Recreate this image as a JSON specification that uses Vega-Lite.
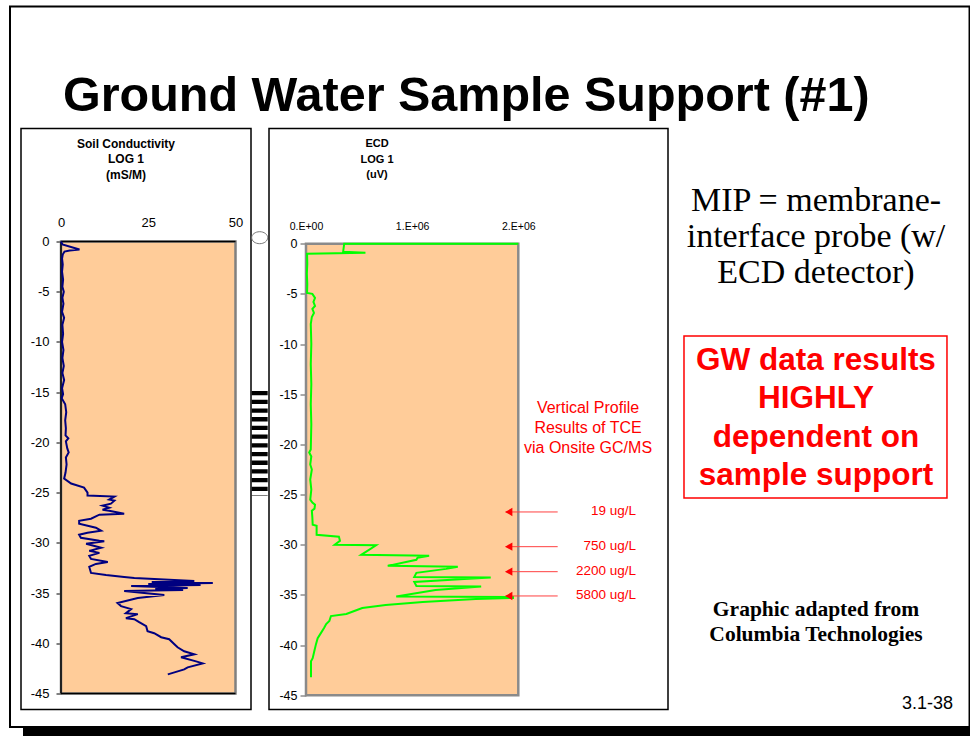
{
  "$schema": "https://vega.github.io/schema/vega-lite/v6.json",
  "padding": {"left": 8, "top": 4.5, "right": 0, "bottom": 0},
  "background": "white",
  "config": {"font": "Liberation Sans", "view": {"stroke": null}},
  "spacing": 18,
  "bounds": "flush",
  "hconcat": [
    {
      "width": 230,
      "height": 581,
      "view": {"stroke": "black", "strokeWidth": 1.5},
      "layer": [
        {
          "data": {"values": [{}]},
          "mark": {"type": "rect", "filled": false, "stroke": "black", "strokeWidth": 2},
          "encoding": {
            "x": {"datum": -14.613, "type": "quantitative", "scale": {"domain": [-11.461, 54.441], "nice": false, "zero": false}},
            "x2": {"datum": 260.32},
            "y": {"datum": 23.397, "type": "quantitative", "scale": {"domain": [-46.595, 11.25], "nice": false, "zero": false}},
            "y2": {"datum": -48.337}
          }
        },
        {
          "data": {"values": [{}]},
          "mark": {"type": "rect", "fill": "black"},
          "encoding": {
            "x": {"datum": -10.888, "type": "quantitative", "scale": {"domain": [-11.461, 54.441], "nice": false, "zero": false}},
            "x2": {"datum": 260.6},
            "y": {"datum": -48.437, "type": "quantitative", "scale": {"domain": [-46.595, 11.25], "nice": false, "zero": false}},
            "y2": {"datum": -49.333}
          }
        },
        {
          "data": {"values": [{}]},
          "mark": {"type": "text", "align": "left", "baseline": "alphabetic", "fontSize": 48.5, "fontWeight": "bold", "font": "Liberation Sans", "color": "black"},
          "encoding": {
            "x": {"datum": 0.573, "type": "quantitative", "scale": {"domain": [-11.461, 54.441], "nice": false, "zero": false}},
            "y": {"datum": 12.99, "type": "quantitative", "scale": {"domain": [-46.595, 11.25], "nice": false, "zero": false}},
            "text": {"value": "Ground Water Sample Support (#1)"}
          }
        },
        {
          "data": {"values": [{}]},
          "mark": {"type": "point", "shape": "M-1,0A1,0.75,0,1,0,1,0A1,0.75,0,1,0,-1,0", "size": 256, "filled": false, "stroke": "#777777", "strokeWidth": 1, "opacity": 1},
          "encoding": {
            "x": {"datum": 56.93, "type": "quantitative", "scale": {"domain": [-11.461, 54.441], "nice": false, "zero": false}},
            "y": {"datum": 0.378, "type": "quantitative", "scale": {"domain": [-46.595, 11.25], "nice": false, "zero": false}}
          }
        },
        {
          "data": {"values": [{}]},
          "mark": {"type": "rule", "color": "black", "strokeWidth": 16, "strokeDash": [4.3, 4.4]},
          "encoding": {
            "x": {"datum": 56.93, "type": "quantitative", "scale": {"domain": [-11.461, 54.441], "nice": false, "zero": false}},
            "y": {"datum": -14.885, "type": "quantitative", "scale": {"domain": [-46.595, 11.25], "nice": false, "zero": false}},
            "y2": {"datum": -25.338}
          }
        },
        {
          "data": {"values": [{}]},
          "mark": {"type": "rect", "fill": "#FFCC99", "stroke": "#808080", "strokeWidth": 2.5},
          "encoding": {
            "x": {"datum": 0, "type": "quantitative", "scale": {"domain": [-11.461, 54.441], "nice": false, "zero": false}},
            "x2": {"datum": 50},
            "y": {"datum": 0, "type": "quantitative", "scale": {"domain": [-46.595, 11.25], "nice": false, "zero": false}},
            "y2": {"datum": -45}
          }
        },
        {
          "data": {"values": [{}]},
          "mark": {"type": "rule", "color": "black", "strokeWidth": 1.5},
          "encoding": {
            "x": {"datum": 0, "type": "quantitative", "scale": {"domain": [-11.461, 54.441], "nice": false, "zero": false}},
            "y": {"datum": 0, "type": "quantitative", "scale": {"domain": [-46.595, 11.25], "nice": false, "zero": false}},
            "y2": {"datum": -45}
          }
        },
        {
          "data": {"values": [{}]},
          "mark": {"type": "rule", "color": "black", "strokeWidth": 1.5},
          "encoding": {
            "x": {"datum": 0, "type": "quantitative", "scale": {"domain": [-11.461, 54.441], "nice": false, "zero": false}},
            "x2": {"datum": 50},
            "y": {"datum": 0, "type": "quantitative", "scale": {"domain": [-46.595, 11.25], "nice": false, "zero": false}}
          }
        },
        {
          "data": {"values": [{}]},
          "mark": {"type": "rule", "color": "black", "strokeWidth": 1.5},
          "encoding": {
            "x": {"datum": 0, "type": "quantitative", "scale": {"domain": [-11.461, 54.441], "nice": false, "zero": false}},
            "x2": {"datum": 50},
            "y": {"datum": -45, "type": "quantitative", "scale": {"domain": [-46.595, 11.25], "nice": false, "zero": false}}
          }
        },
        {
          "data": {
            "values": [
              {"cond": 0, "depth": 0}, {"cond": 0.4, "depth": -0.3}, {"cond": 5.3, "depth": -0.8}, {"cond": 2.5, "depth": -0.9}, {"cond": 1.0, "depth": -1.0},
              {"cond": 0.5, "depth": -1.3}, {"cond": 0.3, "depth": -1.7}, {"cond": 0.5, "depth": -2.3}, {"cond": 0.3, "depth": -3.0}, {"cond": 0.6, "depth": -3.8},
              {"cond": 0.4, "depth": -4.5}, {"cond": 0.8, "depth": -5.0}, {"cond": 0.4, "depth": -5.6}, {"cond": 0.7, "depth": -6.2}, {"cond": 0.3, "depth": -7.0},
              {"cond": 0.9, "depth": -7.6}, {"cond": 0.4, "depth": -8.3}, {"cond": 0.6, "depth": -9.2}, {"cond": 0.3, "depth": -10.0}, {"cond": 0.7, "depth": -10.8},
              {"cond": 0.4, "depth": -11.6}, {"cond": 0.8, "depth": -12.4}, {"cond": 0.4, "depth": -13.1}, {"cond": 0.9, "depth": -13.8}, {"cond": 0.3, "depth": -14.6},
              {"cond": 0.6, "depth": -15.2}, {"cond": 0.2, "depth": -15.6}, {"cond": 1.2, "depth": -16.2}, {"cond": 1.5, "depth": -17.0}, {"cond": 1.2, "depth": -17.8},
              {"cond": 1.4, "depth": -18.6}, {"cond": 1.3, "depth": -19.3}, {"cond": 2.1, "depth": -19.6}, {"cond": 1.4, "depth": -19.9}, {"cond": 1.8, "depth": -20.6},
              {"cond": 2.2, "depth": -21.0}, {"cond": 1.4, "depth": -21.5}, {"cond": 1.6, "depth": -22.2}, {"cond": 1.3, "depth": -23.0}, {"cond": 0.9, "depth": -23.6},
              {"cond": 2.9, "depth": -24.1}, {"cond": 6.6, "depth": -24.5}, {"cond": 7.6, "depth": -25.0}, {"cond": 7.6, "depth": -25.3}, {"cond": 15.3, "depth": -25.4},
              {"cond": 13.8, "depth": -25.7}, {"cond": 15.3, "depth": -25.8}, {"cond": 14.3, "depth": -26.1}, {"cond": 11.9, "depth": -26.3}, {"cond": 13.8, "depth": -26.5},
              {"cond": 11.9, "depth": -26.7}, {"cond": 13.8, "depth": -26.8}, {"cond": 18.1, "depth": -27.1}, {"cond": 11.0, "depth": -27.2}, {"cond": 8.6, "depth": -27.6},
              {"cond": 5.2, "depth": -27.8}, {"cond": 5.2, "depth": -28.1}, {"cond": 10.0, "depth": -28.5}, {"cond": 11.5, "depth": -28.8}, {"cond": 7.6, "depth": -29.0},
              {"cond": 5.2, "depth": -29.2}, {"cond": 5.7, "depth": -29.5}, {"cond": 11.0, "depth": -29.8}, {"cond": 12.4, "depth": -29.85}, {"cond": 7.2, "depth": -30.1},
              {"cond": 11.5, "depth": -30.5}, {"cond": 8.1, "depth": -30.8}, {"cond": 11.0, "depth": -31.0}, {"cond": 8.1, "depth": -31.3}, {"cond": 8.6, "depth": -31.6},
              {"cond": 13.4, "depth": -31.9}, {"cond": 10.0, "depth": -32.1}, {"cond": 8.1, "depth": -32.4}, {"cond": 8.6, "depth": -33.0}, {"cond": 12.9, "depth": -33.2},
              {"cond": 18.1, "depth": -33.4}, {"cond": 21.0, "depth": -33.5}, {"cond": 38.2, "depth": -33.8}, {"cond": 26.0, "depth": -33.9}, {"cond": 43.5, "depth": -34.0},
              {"cond": 25.0, "depth": -34.1}, {"cond": 40.0, "depth": -34.2}, {"cond": 20.1, "depth": -34.3}, {"cond": 36.3, "depth": -34.5}, {"cond": 27.0, "depth": -34.6},
              {"cond": 35.0, "depth": -34.7}, {"cond": 18.1, "depth": -34.8}, {"cond": 29.6, "depth": -35.2}, {"cond": 22.0, "depth": -35.5}, {"cond": 16.2, "depth": -36.0},
              {"cond": 17.2, "depth": -36.3}, {"cond": 20.1, "depth": -36.6}, {"cond": 18.6, "depth": -37.0}, {"cond": 22.0, "depth": -37.1}, {"cond": 18.6, "depth": -37.5},
              {"cond": 21.0, "depth": -37.6}, {"cond": 22.4, "depth": -37.9}, {"cond": 24.4, "depth": -38.3}, {"cond": 24.8, "depth": -38.8}, {"cond": 26.7, "depth": -39.0},
              {"cond": 28.7, "depth": -39.4}, {"cond": 31.0, "depth": -39.6}, {"cond": 32.5, "depth": -40.1}, {"cond": 33.4, "depth": -40.4}, {"cond": 35.3, "depth": -40.8},
              {"cond": 38.2, "depth": -41.1}, {"cond": 34.4, "depth": -41.4}, {"cond": 38.7, "depth": -41.8}, {"cond": 40.6, "depth": -42.0}, {"cond": 36.3, "depth": -42.4},
              {"cond": 35.3, "depth": -42.6}, {"cond": 32.5, "depth": -42.9}, {"cond": 30.6, "depth": -43.1}
            ]
          },
          "mark": {"type": "line", "color": "#000080", "strokeWidth": 2},
          "encoding": {
            "x": {"field": "cond", "type": "quantitative", "scale": {"domain": [-11.461, 54.441], "nice": false, "zero": false},
              "axis": {"orient": "top", "offset": -113, "values": [0, 25, 50], "domain": false, "ticks": false, "tickSize": 0, "labelPadding": 12, "labelFontSize": 13, "labelColor": "black", "labelFont": "Liberation Sans", "labelFlush": false, "labelOverlap": false, "grid": false, "title": null}},
            "y": {"field": "depth", "type": "quantitative", "scale": {"domain": [-46.595, 11.25], "nice": false, "zero": false},
              "axis": {"orient": "left", "offset": -40, "values": [0, -5, -10, -15, -20, -25, -30, -35, -40, -45], "labelExpr": "'' + datum.value", "domain": false, "ticks": true, "tickSize": 5, "tickColor": "black", "labelPadding": 7, "labelFontSize": 13, "labelColor": "black", "labelFont": "Liberation Sans", "labelFlush": false, "labelOverlap": false, "grid": false, "title": null}},
            "order": {"value": null}
          }
        },
        {
          "data": {"values": [{}]},
          "mark": {"type": "text", "align": "center", "baseline": "middle", "fontSize": 12, "fontWeight": "bold", "lineHeight": 15.5, "color": "black"},
          "encoding": {
            "x": {"datum": 18.62, "type": "quantitative", "scale": {"domain": [-11.461, 54.441], "nice": false, "zero": false}},
            "y": {"datum": 9.707, "type": "quantitative", "scale": {"domain": [-46.595, 11.25], "nice": false, "zero": false}},
            "text": {"value": ["Soil Conductivity", "LOG 1", "(mS/M)"]}
          }
        }
      ]
    },
    {
      "width": 399,
      "height": 581,
      "view": {"stroke": "black", "strokeWidth": 1.5},
      "layer": [
        {
          "data": {"values": [{}]},
          "mark": {"type": "rect", "fill": "#FFCC99", "stroke": "#8a8a8a", "strokeWidth": 2.5},
          "encoding": {
            "x": {"datum": 0, "type": "quantitative", "scale": {"domain": [-348560, 3410270], "nice": false, "zero": false}},
            "x2": {"datum": 2000000},
            "y": {"datum": 0, "type": "quantitative", "scale": {"domain": [-46.413, 11.479], "nice": false, "zero": false}},
            "y2": {"datum": -45}
          }
        },
        {
          "data": {
            "values": [
              {"ecd": 2000000, "depth": 0}, {"ecd": 360000, "depth": 0}, {"ecd": 350000, "depth": -0.8}, {"ecd": 560000, "depth": -0.9}, {"ecd": 10000, "depth": -1.0},
              {"ecd": 12000, "depth": -2.0}, {"ecd": 8000, "depth": -3.0}, {"ecd": 12000, "depth": -4.0}, {"ecd": 10000, "depth": -4.9}, {"ecd": 60000, "depth": -5.0},
              {"ecd": 85000, "depth": -5.4}, {"ecd": 70000, "depth": -5.8}, {"ecd": 85000, "depth": -6.2}, {"ecd": 60000, "depth": -6.5}, {"ecd": 75000, "depth": -6.9},
              {"ecd": 55000, "depth": -7.3}, {"ecd": 45000, "depth": -8.0}, {"ecd": 50000, "depth": -10.0}, {"ecd": 45000, "depth": -12.0}, {"ecd": 50000, "depth": -14.0},
              {"ecd": 45000, "depth": -16.0}, {"ecd": 50000, "depth": -18.0}, {"ecd": 45000, "depth": -20.5}, {"ecd": 30000, "depth": -20.8}, {"ecd": 50000, "depth": -21.2},
              {"ecd": 40000, "depth": -22.0}, {"ecd": 55000, "depth": -22.5}, {"ecd": 40000, "depth": -23.5}, {"ecd": 50000, "depth": -24.5}, {"ecd": 40000, "depth": -25.5},
              {"ecd": 60000, "depth": -25.8}, {"ecd": 85000, "depth": -26.0}, {"ecd": 80000, "depth": -26.4}, {"ecd": 55000, "depth": -26.6}, {"ecd": 60000, "depth": -27.3},
              {"ecd": 63000, "depth": -28.0}, {"ecd": 100000, "depth": -28.1}, {"ecd": 100000, "depth": -29.0}, {"ecd": 310000, "depth": -29.2}, {"ecd": 320000, "depth": -29.6},
              {"ecd": 270000, "depth": -30.0}, {"ecd": 660000, "depth": -30.05}, {"ecd": 520000, "depth": -31.0}, {"ecd": 1160000, "depth": -31.1}, {"ecd": 1050000, "depth": -31.3},
              {"ecd": 1040000, "depth": -31.5}, {"ecd": 770000, "depth": -32.1}, {"ecd": 1430000, "depth": -32.2}, {"ecd": 1320000, "depth": -32.4}, {"ecd": 1040000, "depth": -32.8},
              {"ecd": 1020000, "depth": -33.2}, {"ecd": 1740000, "depth": -33.25}, {"ecd": 1490000, "depth": -33.4}, {"ecd": 1020000, "depth": -33.7}, {"ecd": 1040000, "depth": -34.1},
              {"ecd": 1650000, "depth": -34.15}, {"ecd": 1220000, "depth": -34.5}, {"ecd": 850000, "depth": -35.15}, {"ecd": 1950000, "depth": -35.2}, {"ecd": 1950000, "depth": -35.3},
              {"ecd": 1600000, "depth": -35.4}, {"ecd": 1100000, "depth": -35.7}, {"ecd": 750000, "depth": -36.0}, {"ecd": 530000, "depth": -36.3}, {"ecd": 455000, "depth": -36.6},
              {"ecd": 380000, "depth": -36.9}, {"ecd": 235000, "depth": -37.1}, {"ecd": 220000, "depth": -37.6}, {"ecd": 190000, "depth": -37.9}, {"ecd": 170000, "depth": -38.3},
              {"ecd": 140000, "depth": -38.8}, {"ecd": 110000, "depth": -39.3}, {"ecd": 94000, "depth": -39.9}, {"ecd": 78000, "depth": -40.6}, {"ecd": 63000, "depth": -41.3},
              {"ecd": 47000, "depth": -41.6}, {"ecd": 47000, "depth": -43.2}
            ]
          },
          "mark": {"type": "line", "color": "#00FF00", "strokeWidth": 2},
          "encoding": {
            "x": {"field": "ecd", "type": "quantitative", "scale": {"domain": [-348560, 3410270], "nice": false, "zero": false},
              "axis": {"orient": "top", "offset": -115.2, "values": [0, 1000000, 2000000], "labelExpr": "datum.value == 0 ? '0.E+00' : (datum.value / 1000000) + '.E+06'", "domain": false, "ticks": false, "tickSize": 0, "labelPadding": 12, "labelFontSize": 10.5, "labelColor": "black", "labelFont": "Liberation Sans", "labelFlush": false, "labelOverlap": false, "grid": false, "title": null}},
            "y": {"field": "depth", "type": "quantitative", "scale": {"domain": [-46.413, 11.479], "nice": false, "zero": false},
              "axis": {"orient": "left", "offset": -37, "values": [0, -5, -10, -15, -20, -25, -30, -35, -40, -45], "labelExpr": "'' + datum.value", "domain": false, "ticks": true, "tickSize": 6, "tickColor": "#555555", "labelPadding": 3, "labelFontSize": 12.5, "labelColor": "black", "labelFont": "Liberation Sans", "labelFlush": false, "labelOverlap": false, "grid": false, "title": null}},
            "order": {"value": null}
          }
        },
        {
          "data": {"values": [{"conc": "19 ug/L", "depth": -26.73}, {"conc": "750 ug/L", "depth": -30.19}, {"conc": "2200 ug/L", "depth": -32.68}, {"conc": "5800 ug/L", "depth": -35.1}]},
          "mark": {"type": "rule", "color": "#FF4040", "strokeWidth": 1},
          "encoding": {
            "x": {"datum": 2371000, "type": "quantitative", "scale": {"domain": [-348560, 3410270], "nice": false, "zero": false}},
            "x2": {"datum": 1880000},
            "y": {"field": "depth", "type": "quantitative", "scale": {"domain": [-46.413, 11.479], "nice": false, "zero": false}}
          }
        },
        {
          "data": {"values": [{"conc": "19 ug/L", "depth": -26.73}, {"conc": "750 ug/L", "depth": -30.19}, {"conc": "2200 ug/L", "depth": -32.68}, {"conc": "5800 ug/L", "depth": -35.1}]},
          "mark": {"type": "point", "shape": "triangle-left", "filled": true, "color": "#FF0000", "size": 70, "opacity": 1},
          "encoding": {
            "x": {"datum": 1910000, "type": "quantitative", "scale": {"domain": [-348560, 3410270], "nice": false, "zero": false}},
            "y": {"field": "depth", "type": "quantitative", "scale": {"domain": [-46.413, 11.479], "nice": false, "zero": false}}
          }
        },
        {
          "data": {"values": [{"conc": "19 ug/L", "depth": -26.73}, {"conc": "750 ug/L", "depth": -30.19}, {"conc": "2200 ug/L", "depth": -32.68}, {"conc": "5800 ug/L", "depth": -35.1}]},
          "mark": {"type": "text", "align": "right", "baseline": "middle", "fontSize": 13.5, "color": "#FF0000", "dy": -1},
          "encoding": {
            "x": {"datum": 3109000, "type": "quantitative", "scale": {"domain": [-348560, 3410270], "nice": false, "zero": false}},
            "y": {"field": "depth", "type": "quantitative", "scale": {"domain": [-46.413, 11.479], "nice": false, "zero": false}},
            "text": {"field": "conc"}
          }
        },
        {
          "data": {"values": [{}]},
          "mark": {"type": "text", "align": "center", "baseline": "middle", "fontSize": 16, "lineHeight": 20, "color": "#FF0000"},
          "encoding": {
            "x": {"datum": 2657000, "type": "quantitative", "scale": {"domain": [-348560, 3410270], "nice": false, "zero": false}},
            "y": {"datum": -16.37, "type": "quantitative", "scale": {"domain": [-46.413, 11.479], "nice": false, "zero": false}},
            "text": {"value": ["Vertical Profile", "Results of TCE", "via Onsite GC/MS"]}
          }
        },
        {
          "data": {"values": [{}]},
          "mark": {"type": "text", "align": "center", "baseline": "middle", "fontSize": 11, "fontWeight": "bold", "lineHeight": 15.5, "color": "black"},
          "encoding": {
            "x": {"datum": 668900, "type": "quantitative", "scale": {"domain": [-348560, 3410270], "nice": false, "zero": false}},
            "y": {"datum": 9.934, "type": "quantitative", "scale": {"domain": [-46.413, 11.479], "nice": false, "zero": false}},
            "text": {"value": ["ECD", "LOG 1", "(uV)"]}
          }
        }
      ]
    },
    {
      "width": 275,
      "height": 581,
      "view": {"stroke": null},
      "layer": [
        {
          "data": {"values": [{}]},
          "mark": {"type": "text", "align": "center", "baseline": "middle", "font": "Liberation Serif", "fontSize": 34, "lineHeight": 36, "color": "black"},
          "encoding": {
            "x": {"datum": 47.27, "type": "quantitative", "scale": {"domain": [0, 100], "nice": false, "zero": false}, "axis": null},
            "y": {"datum": 12.48, "type": "quantitative", "scale": {"domain": [0, 100], "reverse": true, "nice": false, "zero": false}, "axis": null},
            "text": {"value": ["MIP = membrane-", "interface probe  (w/", "ECD detector)"]}
          }
        },
        {
          "data": {"values": [{}]},
          "mark": {"type": "rect", "filled": false, "stroke": "#FF0000", "strokeWidth": 1.5},
          "encoding": {
            "x": {"datum": -0.73, "type": "quantitative", "scale": {"domain": [0, 100], "nice": false, "zero": false}, "axis": null},
            "x2": {"datum": 94.9},
            "y": {"datum": 35.71, "type": "quantitative", "scale": {"domain": [0, 100], "reverse": true, "nice": false, "zero": false}, "axis": null},
            "y2": {"datum": 63.6}
          }
        },
        {
          "data": {"values": [{}]},
          "mark": {"type": "text", "align": "center", "baseline": "middle", "font": "Liberation Sans", "fontSize": 31.5, "fontWeight": "bold", "lineHeight": 38.5, "color": "#FF0000"},
          "encoding": {
            "x": {"datum": 47.27, "type": "quantitative", "scale": {"domain": [0, 100], "nice": false, "zero": false}, "axis": null},
            "y": {"datum": 40.0, "type": "quantitative", "scale": {"domain": [0, 100], "reverse": true, "nice": false, "zero": false}, "axis": null},
            "text": {"value": ["GW data results", "HIGHLY", "dependent on", "sample support"]}
          }
        },
        {
          "data": {"values": [{}]},
          "mark": {"type": "text", "align": "center", "baseline": "middle", "font": "Liberation Serif", "fontSize": 21.5, "fontWeight": "bold", "lineHeight": 25, "color": "black"},
          "encoding": {
            "x": {"datum": 47.27, "type": "quantitative", "scale": {"domain": [0, 100], "nice": false, "zero": false}, "axis": null},
            "y": {"datum": 82.87, "type": "quantitative", "scale": {"domain": [0, 100], "reverse": true, "nice": false, "zero": false}, "axis": null},
            "text": {"value": ["Graphic adapted from", "Columbia Technologies"]}
          }
        },
        {
          "data": {"values": [{}]},
          "mark": {"type": "text", "align": "center", "baseline": "middle", "font": "Liberation Sans", "fontSize": 18, "color": "black"},
          "encoding": {
            "x": {"datum": 87.8, "type": "quantitative", "scale": {"domain": [0, 100], "nice": false, "zero": false}, "axis": null},
            "y": {"datum": 98.97, "type": "quantitative", "scale": {"domain": [0, 100], "reverse": true, "nice": false, "zero": false}, "axis": null},
            "text": {"value": "3.1-38"}
          }
        }
      ]
    }
  ]
}
